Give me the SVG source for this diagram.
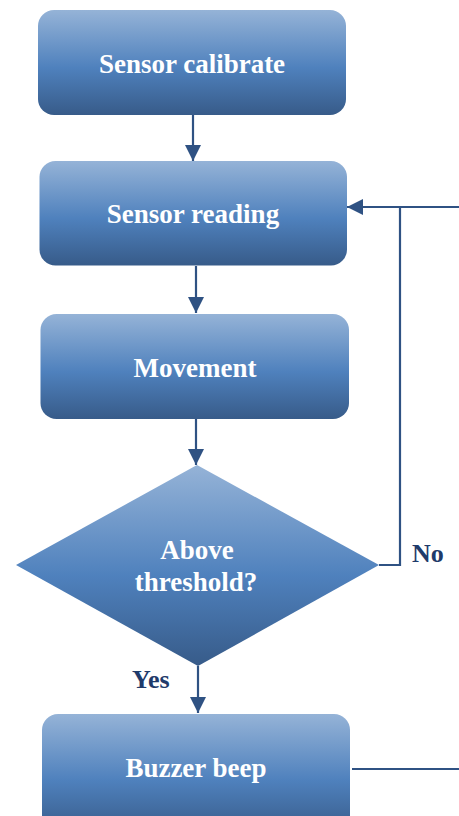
<svg xmlns="http://www.w3.org/2000/svg" width="459" height="816" viewBox="0 0 459 816">
<style>
.box{fill:url(#g);}
.lbl{font-family:"Liberation Serif","Times New Roman",serif;font-weight:bold;font-size:27px;fill:#ffffff;text-anchor:middle;}
.edge{font-family:"Liberation Serif","Times New Roman",serif;font-weight:bold;font-size:26px;fill:#1F3B6B;}
.ln{stroke:#2F5283;stroke-width:2.2;fill:none;}
</style>
<defs>
<linearGradient id="g" x1="0" y1="0" x2="0" y2="1">
<stop offset="0" stop-color="#95B3D7"/>
<stop offset="0.55" stop-color="#4F81BD"/>
<stop offset="1" stop-color="#375B89"/>
</linearGradient>
<marker id="ah" markerWidth="16" markerHeight="16" refX="16" refY="8" orient="auto" markerUnits="userSpaceOnUse">
<path d="M0,0 L16,8 L0,16 Z" fill="#2F5283"/>
</marker>
</defs>
<g id="connectors">
<line class="ln" x1="193" y1="115" x2="193" y2="161" marker-end="url(#ah)"/>
<line class="ln" x1="196" y1="266" x2="196" y2="313" marker-end="url(#ah)"/>
<line class="ln" x1="196" y1="419" x2="196" y2="465" marker-end="url(#ah)"/>
<line class="ln" x1="198" y1="666" x2="198" y2="713" marker-end="url(#ah)"/>
<polyline class="ln" points="379,565 400,565 400,207"/>
<line class="ln" x1="459" y1="207" x2="347" y2="207" marker-end="url(#ah)"/>
<line class="ln" x1="352" y1="769" x2="459" y2="769"/>
<text class="edge" x="412" y="562">No</text>
<text class="edge" x="132" y="688">Yes</text>
</g>
<g id="n1">
<rect class="box" x="38" y="10" width="308" height="105" rx="16"/>
<text class="lbl" x="192" y="73">Sensor calibrate</text>
</g>
<g id="n2">
<rect class="box" x="39.5" y="161" width="307.5" height="104.5" rx="16"/>
<text class="lbl" x="193" y="223">Sensor reading</text>
</g>
<g id="n3">
<rect class="box" x="40.5" y="314" width="308.5" height="105" rx="16"/>
<text class="lbl" x="195" y="377">Movement</text>
</g>
<g id="n4">
<polygon class="box" points="197,465 379,565 198,666 16,565"/>
<text class="lbl" x="197" y="559">Above</text>
<text class="lbl" x="196" y="591">threshold?</text>
</g>
<g id="n5">
<rect class="box" x="42" y="714" width="308" height="120" rx="16"/>
<text class="lbl" x="196" y="777">Buzzer beep</text>
</g>
</svg>
